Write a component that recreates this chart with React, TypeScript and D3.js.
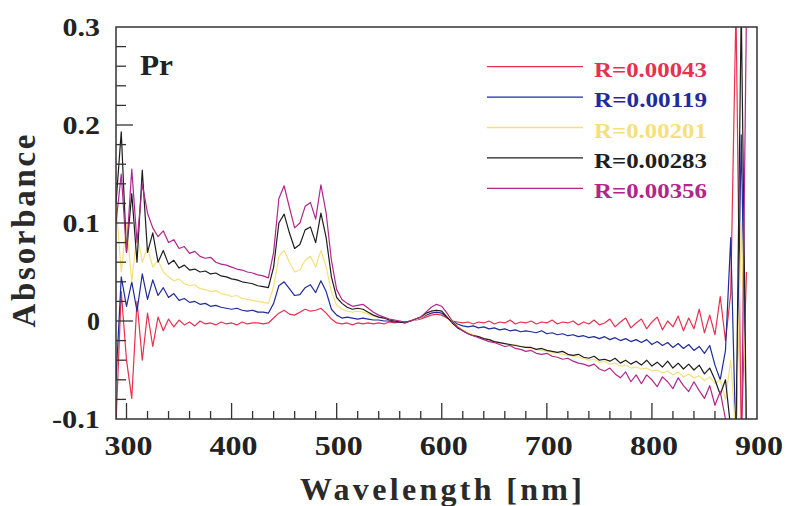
import React from "react";
import * as d3 from "d3";

const wavelengths: number[] = d3.range(290, 891, 5);

const seriesLabels = ["R=0.00043", "R=0.00119", "R=0.00201", "R=0.00283", "R=0.00356"];
const seriesColors = ["#e8304f", "#1f2c9a", "#f6e07e", "#1e1e1e", "#b1268c"];

const r00043 = [
  -0.105, 0.03, -0.04, -0.079, 0.02, -0.04, 0.008, -0.026, 0.004, -0.01,
  0.002, -0.006, 0.001, -0.004, -0.001, -0.005, 0.0, -0.003, -0.002, -0.004,
  -0.001, -0.003, -0.002, -0.004, -0.001, -0.003, -0.002, -0.002, -0.003, -0.002,
  0.003, 0.008, 0.011, 0.007, 0.006, 0.009, 0.012, 0.01, 0.011, 0.013,
  0.008, 0.002, -0.002, -0.003, -0.002, -0.004, -0.002, -0.003, -0.002, -0.003,
  -0.002, -0.003, -0.001, -0.002, -0.001, -0.002, 0.0, 0.001, 0.002, 0.004,
  0.006, 0.007, 0.006, 0.003, 0.0, -0.001, -0.002, -0.001, -0.003, -0.001,
  -0.002, 0.0, -0.003, -0.001, -0.002, 0.001, -0.003, -0.001, -0.002, 0.0,
  -0.003, -0.001, -0.002, 0.001, -0.003, -0.001, -0.002, 0.0, -0.004, -0.001,
  -0.003, 0.001, -0.004, -0.002, 0.002, -0.006, -0.001, 0.003, -0.007, -0.002,
  0.002, -0.008, -0.001, 0.004, -0.009, 0.0, -0.006, 0.005, -0.01, 0.003,
  -0.008, 0.012, -0.012, 0.006, -0.014, 0.025, -0.02, 0.028, 0.32, -0.12,
  0.05,
];

const r00119 = [
  -0.06, 0.045, 0.015, 0.04, 0.01, 0.048, 0.022, 0.042, 0.026, 0.034,
  0.024, 0.028, 0.021, 0.023, 0.019, 0.02, 0.017, 0.018, 0.015, 0.016,
  0.014, 0.013, 0.012, 0.013, 0.011, 0.01, 0.011, 0.009, 0.009, 0.008,
  0.018, 0.036, 0.04, 0.033, 0.026, 0.027, 0.034, 0.037, 0.029, 0.041,
  0.03, 0.012, 0.006, 0.003, 0.004, 0.003, 0.002, 0.003, 0.002, 0.001,
  0.001, 0.0, 0.0, -0.001, -0.001, -0.002, 0.0, 0.001, 0.003, 0.006,
  0.008, 0.009, 0.008, 0.004, 0.0, -0.003, -0.005, -0.006, -0.005, -0.007,
  -0.006, -0.008, -0.007, -0.009, -0.008, -0.01, -0.009, -0.011, -0.01, -0.011,
  -0.012, -0.01, -0.013, -0.012, -0.014, -0.013, -0.015, -0.014, -0.016, -0.015,
  -0.017, -0.016, -0.018, -0.016, -0.019, -0.017, -0.02, -0.018, -0.021, -0.019,
  -0.022, -0.019, -0.024, -0.021, -0.025, -0.022, -0.027, -0.023, -0.028, -0.024,
  -0.03, -0.026, -0.033, -0.025, -0.045, -0.06, -0.03, 0.085, -0.13, 0.19,
  -0.12,
];

const r00201 = [
  0.12, 0.05, 0.1, 0.04, 0.09, 0.06, 0.075, 0.055, 0.062, 0.05,
  0.045, 0.041, 0.043, 0.038, 0.036, 0.037, 0.033, 0.032, 0.03, 0.031,
  0.028, 0.027, 0.025, 0.026, 0.023, 0.022, 0.021, 0.02, 0.019, 0.018,
  0.035, 0.066, 0.072, 0.06, 0.05, 0.052, 0.062, 0.066, 0.055, 0.072,
  0.055, 0.03, 0.016, 0.012, 0.01, 0.009, 0.01, 0.009, 0.007, 0.005,
  0.004, 0.003, 0.002, 0.001, 0.0, -0.001, 0.0, 0.001, 0.003, 0.007,
  0.01, 0.011, 0.01, 0.005, 0.0, -0.005, -0.009, -0.012, -0.014, -0.016,
  -0.018, -0.019, -0.021, -0.022, -0.023, -0.025, -0.024, -0.026, -0.027, -0.028,
  -0.029, -0.03, -0.031, -0.032, -0.033, -0.034, -0.035, -0.036, -0.037, -0.038,
  -0.04, -0.039, -0.042, -0.041, -0.044, -0.043, -0.046, -0.045, -0.048, -0.047,
  -0.049, -0.048, -0.051, -0.05, -0.053, -0.051, -0.055, -0.052, -0.057, -0.054,
  -0.058, -0.056, -0.061, -0.057, -0.064, -0.06, -0.08, -0.04, -0.12, 0.1,
  -0.11,
];

const r00283 = [
  0.12, 0.193, 0.07, 0.13, 0.06, 0.154, 0.07, 0.09, 0.06, 0.072,
  0.058, 0.062, 0.054, 0.057, 0.052, 0.053, 0.05, 0.051, 0.048, 0.049,
  0.046, 0.045, 0.043, 0.042, 0.04, 0.039, 0.038, 0.036, 0.035, 0.034,
  0.055, 0.1, 0.109, 0.09, 0.074, 0.078, 0.093, 0.096, 0.08, 0.11,
  0.085, 0.045, 0.024, 0.018, 0.014, 0.012, 0.013, 0.012, 0.009, 0.006,
  0.004, 0.003, 0.001, 0.0, -0.001, -0.001, 0.0, 0.002, 0.004, 0.008,
  0.01, 0.011, 0.01, 0.004, -0.002, -0.007, -0.01, -0.013, -0.015, -0.016,
  -0.018, -0.019, -0.021, -0.022, -0.023, -0.024, -0.025, -0.026, -0.027, -0.027,
  -0.029, -0.028, -0.03, -0.031, -0.032, -0.031, -0.034, -0.035, -0.034, -0.037,
  -0.038, -0.036, -0.04, -0.039, -0.041, -0.038, -0.043, -0.04, -0.044, -0.041,
  -0.045, -0.04, -0.046, -0.042, -0.047, -0.041, -0.048, -0.043, -0.049, -0.044,
  -0.05, -0.045, -0.054, -0.048, -0.06, -0.075, -0.06, -0.11, -0.12, 0.32,
  -0.12,
];

const r00356 = [
  0.1, 0.15, 0.07, 0.155, 0.08, 0.14, 0.11, 0.095, 0.086, 0.092,
  0.08, 0.083, 0.074, 0.076, 0.069, 0.071, 0.066, 0.064, 0.065, 0.06,
  0.058, 0.057, 0.055, 0.053, 0.052, 0.05, 0.049, 0.047, 0.046, 0.044,
  0.07, 0.125, 0.138, 0.116, 0.095, 0.1, 0.117, 0.121, 0.104, 0.139,
  0.11, 0.062, 0.032, 0.022, 0.018, 0.015, 0.016, 0.017, 0.013, 0.009,
  0.006, 0.004, 0.002, 0.001, 0.0, -0.001, 0.0, 0.002, 0.004, 0.009,
  0.014, 0.017, 0.015, 0.008, 0.0, -0.006, -0.01, -0.013, -0.015, -0.017,
  -0.019, -0.021, -0.022, -0.024, -0.026, -0.025, -0.028, -0.029, -0.031, -0.03,
  -0.033, -0.034, -0.033, -0.036, -0.037, -0.039, -0.038, -0.041, -0.043, -0.044,
  -0.046, -0.044, -0.049, -0.051, -0.048, -0.054, -0.058, -0.052, -0.062, -0.055,
  -0.064, -0.055, -0.06, -0.067, -0.057, -0.062, -0.069, -0.058, -0.066, -0.072,
  -0.062, -0.071, -0.079, -0.066, -0.086, -0.072, -0.1, -0.12, -0.11, -0.15,
  0.32,
];

const seriesValues = [r00043, r00119, r00201, r00283, r00356];

const xMajorTicks = [300, 400, 500, 600, 700, 800, 900];
const yMajorTicks = [-0.1, 0, 0.1, 0.2, 0.3];
const yTickLabels = ["-0.1", "0", "0.1", "0.2", "0.3"];

const W = 786;
const H = 506;
const M = { left: 116, right: 757, top: 27, bottom: 419 };
const FONT = "'Liberation Serif', 'Times New Roman', Times, 'Nimbus Roman', serif";

export default function App() {
  const x = d3.scaleLinear().domain([290, 900]).range([M.left, M.right]);
  const y = d3.scaleLinear().domain([-0.1, 0.3]).range([M.bottom, M.top]);
  const line = d3
    .line<number>()
    .x((_, i) => x(wavelengths[i]))
    .y((d) => y(d));

  const xMinor = d3.range(300, 900, 20).filter((v) => v % 100 !== 0);
  const yMinor = d3.range(-0.08, 0.3, 0.02).filter((v) => Math.abs(Math.round(v * 10) - v * 10) > 1e-6);

  const txt = { fontFamily: FONT, fontWeight: 700 as const };

  return (
    <svg width={W} height={H} style={{ position: "absolute", left: 0, top: 0, background: "#fff" }}>
      <defs>
        <clipPath id="plotClip">
          <rect x={M.left} y={M.top} width={M.right - M.left} height={M.bottom - M.top} />
        </clipPath>
      </defs>
      <rect width={W} height={H} fill="#fff" />

      <g clipPath="url(#plotClip)">
        {seriesValues.map((vals, si) => (
          <path
            key={si}
            d={line(vals) || ""}
            fill="none"
            stroke={seriesColors[si]}
            strokeWidth={1.2}
            strokeLinejoin="round"
          />
        ))}
      </g>

      <rect
        x={M.left}
        y={M.top}
        width={M.right - M.left}
        height={M.bottom - M.top}
        fill="none"
        stroke="#333"
        strokeWidth={1.5}
      />

      {xMajorTicks.filter((t) => t < 900).map((t) => (
        <line key={"xM" + t} x1={x(t)} x2={x(t)} y1={M.bottom} y2={M.bottom - 16} stroke="#333" strokeWidth={1.3} />
      ))}
      {xMinor.map((t) => (
        <line key={"xm" + t} x1={x(t)} x2={x(t)} y1={M.bottom} y2={M.bottom - 8} stroke="#333" strokeWidth={1.3} />
      ))}
      {xMajorTicks.map((t) => (
        <text
          key={"xl" + t}
          x={x(t) + 2 - 24}
          y={M.bottom + 36}
          style={txt}
          fontSize={27}
          fill="#222"
          textLength={48}
          lengthAdjust="spacingAndGlyphs"
        >
          {t}
        </text>
      ))}

      {yMajorTicks.filter((t) => t > -0.1 && t < 0.3).map((t) => (
        <line key={"yM" + t} x1={M.left} x2={M.left + 17} y1={y(t)} y2={y(t)} stroke="#333" strokeWidth={1.3} />
      ))}
      {yMinor.map((t, i) => (
        <line key={"ym" + i} x1={M.left} x2={M.left + 10} y1={y(t)} y2={y(t)} stroke="#333" strokeWidth={1.3} />
      ))}
      {yMajorTicks.map((t, i) => {
        const lab = yTickLabels[i];
        const w = lab === "0" ? 13 : lab.startsWith("-") ? 48 : 37.5;
        return (
          <text
            key={"yl" + i}
            x={100 - w}
            y={y(t) + 9}
            style={txt}
            fontSize={26}
            fill="#222"
            textLength={w}
            lengthAdjust="spacingAndGlyphs"
          >
            {lab}
          </text>
        );
      })}

      <text x={300} y={500} style={txt} fontSize={32} fill="#2a2a2a" textLength={282} lengthAdjust="spacing">
        Wavelength [nm]
      </text>
      <text
        transform={`translate(35,231) rotate(-90)`}
        x={-96.5}
        y={0}
        style={txt}
        fontSize={33}
        fill="#2a2a2a"
        textLength={193}
        lengthAdjust="spacing"
      >
        Absorbance
      </text>

      <text x={140} y={75} style={txt} fontSize={30} fill="#222" textLength={33} lengthAdjust="spacingAndGlyphs">
        Pr
      </text>

      {seriesLabels.map((lab, i) => {
        const ly = 66.7 + i * 30.4;
        return (
          <g key={lab}>
            <line x1={487} x2={583} y1={ly} y2={ly} stroke={seriesColors[i]} strokeWidth={1.3} />
            <text
              x={594}
              y={ly + 10}
              style={txt}
              fontSize={22}
              fill={seriesColors[i]}
              textLength={113}
              lengthAdjust="spacingAndGlyphs"
            >
              {lab}
            </text>
          </g>
        );
      })}
    </svg>
  );
}
